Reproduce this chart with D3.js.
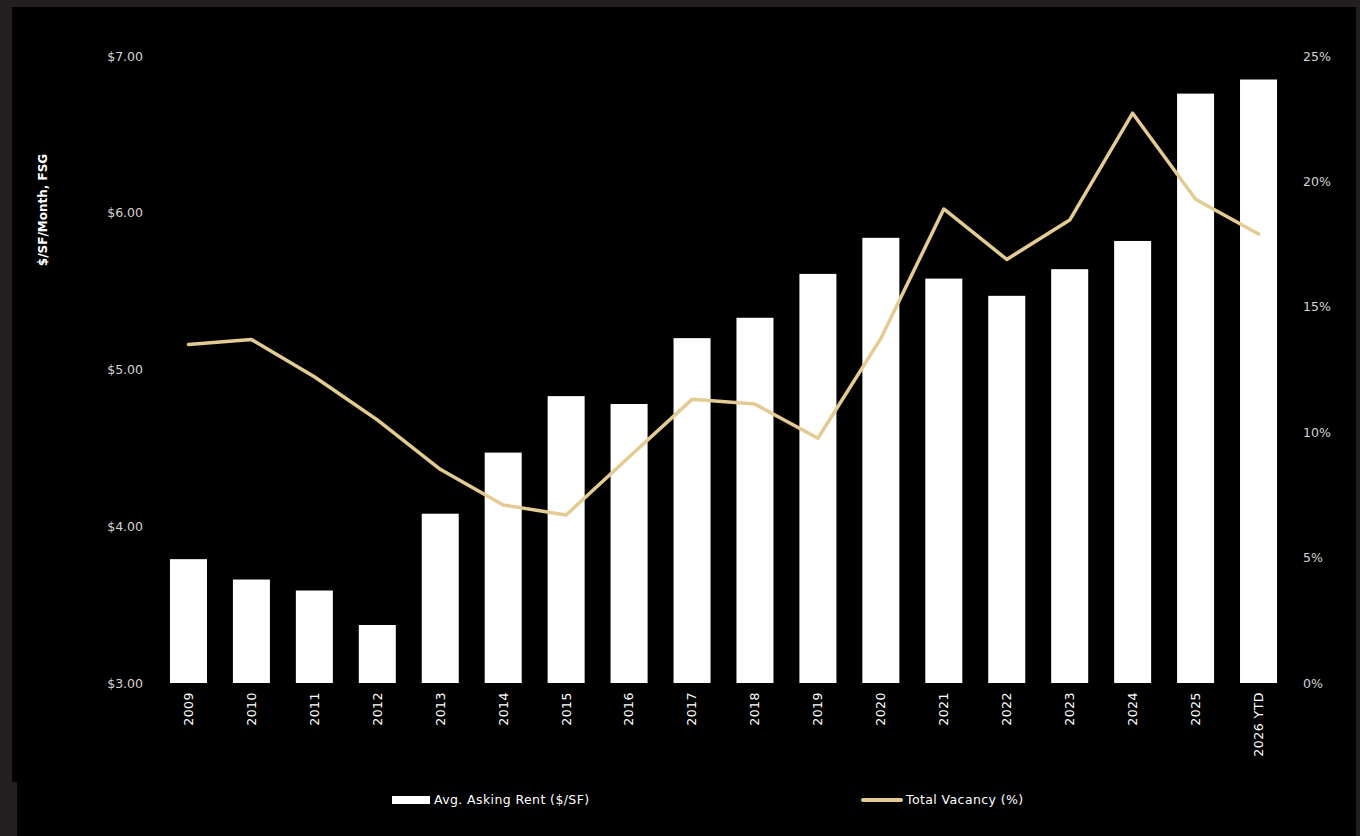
<!DOCTYPE html>
<html>
<head>
<meta charset="utf-8">
<script src="https://cdn.jsdelivr.net/npm/d3@7"></script>
<style>
  body { margin: 0; background: #231f20; }
  svg { display: block; }
</style>
</head>
<body>
<div id="chart"></div>
<script>
// data
const years = ["2009", "2010", "2011", "2012", "2013", "2014", "2015", "2016", "2017",
  "2018", "2019", "2020", "2021", "2022", "2023", "2024", "2025", "2026 YTD"];
const askingRent = [3.79, 3.66, 3.59, 3.37, 4.08, 4.47, 4.83, 4.78, 5.20,
  5.33, 5.61, 5.84, 5.58, 5.47, 5.64, 5.82, 6.76, 6.85];
const vacancy = [13.50, 13.70, 12.21, 10.49, 8.52, 7.10, 6.70, 9.01, 11.31,
  11.12, 9.76, 13.74, 18.90, 16.89, 18.46, 22.72, 19.29, 17.90];
const rentTicks = [3, 4, 5, 6, 7];
const vacTicks = [0, 5, 10, 15, 20, 25];

let width = 1360, height = 836;
let font = "'DejaVu Sans', sans-serif";
let lineColor = "#e3cb93";

let svg = d3.select("#chart")
  .append("svg")
    .attr("width", width)
    .attr("height", height);

// dark frame, black panel
svg.append("rect").attr("width", width).attr("height", height).attr("fill", "#231f20");
svg.append("rect").attr("x", 12).attr("y", 7).attr("width", 1344).attr("height", 775).attr("fill", "#000");
svg.append("rect").attr("x", 17).attr("y", 780).attr("width", 1339).attr("height", 56).attr("fill", "#000");

// scales
let x = d3.scaleBand()
  .domain(years)
  .range([157, 1290])
  .paddingInner(0.412)
  .paddingOuter(0.206);

let y = d3.scaleLinear()
  .domain([3, 7])
  .range([683, 56]);

let y2 = d3.scaleLinear()
  .domain([0, 25])
  .range([683, 56]);

// left axis
let yAxis = d3.axisLeft(y)
  .tickValues(rentTicks)
  .tickSize(0)
  .tickPadding(0)
  .tickFormat(d => "$" + d3.format(".2f")(d));

svg.append("g")
  .attr("transform", "translate(143,0)")
  .call(yAxis)
  .call(g => g.select(".domain").remove())
  .selectAll("text")
    .attr("fill", "#d4d4d4")
    .attr("font-family", font)
    .attr("font-size", 12.5);

// right axis
let y2Axis = d3.axisRight(y2)
  .tickValues(vacTicks)
  .tickSize(0)
  .tickPadding(0)
  .tickFormat(d => d + "%");

svg.append("g")
  .attr("transform", "translate(1303,0)")
  .call(y2Axis)
  .call(g => g.select(".domain").remove())
  .selectAll("text")
    .attr("fill", "#d4d4d4")
    .attr("font-family", font)
    .attr("font-size", 12.5);

// y axis title
svg.append("text")
  .attr("transform", "translate(47,210) rotate(-90)")
  .attr("text-anchor", "middle")
  .attr("fill", "#fff")
  .attr("font-family", font)
  .attr("font-weight", "bold")
  .attr("font-size", 12)
  .text("$/SF/Month, FSG");

// x axis, rotated labels
let xAxis = d3.axisBottom(x).tickSize(0).tickPadding(0);

svg.append("g")
  .attr("transform", "translate(0,683)")
  .call(xAxis)
  .call(g => g.select(".domain").remove())
  .selectAll("text")
    .attr("fill", "#fff")
    .attr("font-family", font)
    .attr("font-size", 12.5)
    .attr("letter-spacing", 0.5)
    .attr("text-anchor", "end")
    .attr("dy", "0.35em")
    .attr("transform", "translate(0,9) rotate(-90)");

// bars
svg.append("g")
  .selectAll("rect")
  .data(years)
  .join("rect")
    .attr("x", d => x(d))
    .attr("y", (d, i) => y(askingRent[i]))
    .attr("width", x.bandwidth())
    .attr("height", (d, i) => y(3) - y(askingRent[i]))
    .attr("fill", "#fff");

// vacancy line
let line = d3.line()
  .x((d, i) => x(years[i]) + x.bandwidth() / 2)
  .y(d => y2(d));

svg.append("path")
  .datum(vacancy)
  .attr("d", line)
  .attr("fill", "none")
  .attr("stroke", lineColor)
  .attr("stroke-width", 3.5)
  .attr("stroke-linejoin", "round")
  .attr("stroke-linecap", "round");

// legend
let legend = svg.append("g").attr("font-family", font).attr("font-size", 12.5)
  .attr("letter-spacing", 0.4).attr("fill", "#fff");
legend.append("rect").attr("x", 392).attr("y", 796).attr("width", 38).attr("height", 8).attr("fill", "#fff");
legend.append("text").attr("x", 434).attr("y", 800).attr("dy", "0.35em").text("Avg. Asking Rent ($/SF)");
legend.append("line").attr("x1", 863).attr("x2", 901).attr("y1", 800).attr("y2", 800)
  .attr("stroke", lineColor).attr("stroke-width", 4).attr("stroke-linecap", "round");
legend.append("text").attr("x", 906).attr("y", 800).attr("dy", "0.35em").text("Total Vacancy (%)");
</script>
</body>
</html>
